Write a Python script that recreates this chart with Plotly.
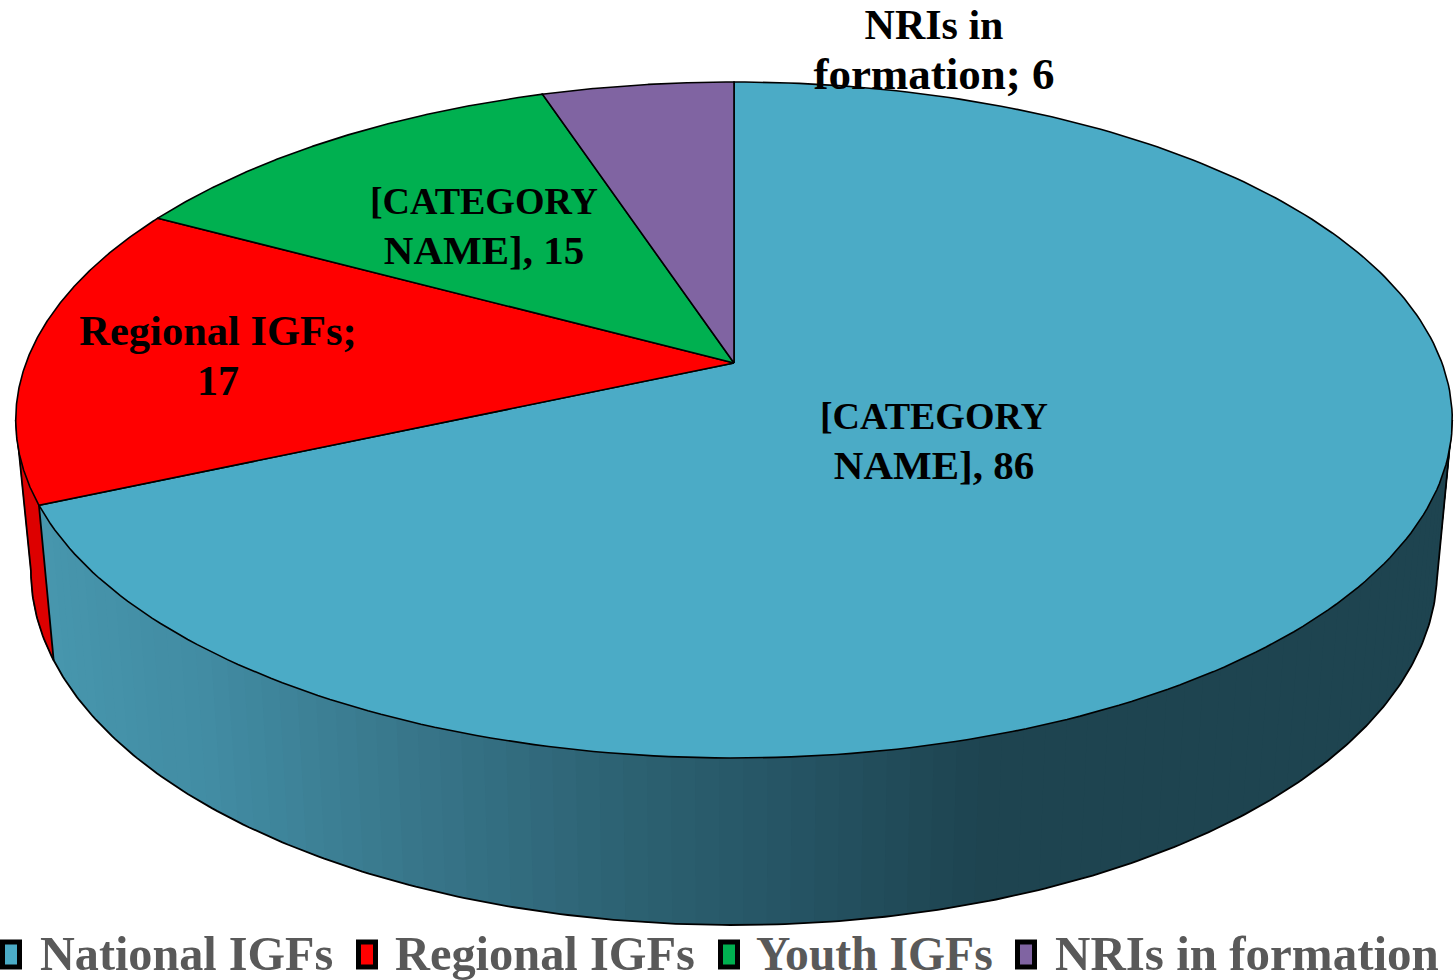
import numpy as np
import plotly.graph_objects as go

# Categories and printed values
categories = ["National IGFs", "Regional IGFs", "Youth IGFs", "NRIs in formation"]
values = [86, 17, 15, 6]
# Slice shares as actually drawn in the picture (the 3D slices differ a little from the printed values)
drawn_shares = [84.8, 18.0, 14.9, 6.3]
colors = ["#4BABC6", "#FF0000", "#00B050", "#8064A2"]

label_lines = [
    ["[CATEGORY", "NAME], 86"],
    ["Regional IGFs;", "17"],
    ["[CATEGORY", "NAME], 15"],
    ["NRIs in", "formation; 6"],
]
label_sizes = [[38, 41], [42.5, 42], [38, 41], [42, 45]]
label_x = [934, 218, 484, 934]
label_y = [[419, 469], [334, 384], [204, 254], [28, 78]]

legend_swatch_x = [0, 356, 718, 1015]
legend_text_x = [40, 395, 756, 1055]
legend_sizes = [48.2, 48.4, 47.6, 49]

W, H = 1455, 980
CX, CY = 734, 363          # apex of the pie on the page
K = 0.1686                 # perspective of the tilted disc
A, B = 708.0, 328.4        # top face
A2, B2, Y02 = 693.0, 343.8, 511.5  # bottom rim


def top(t):
    u, v = np.sin(t), np.cos(t)
    den = 1 + K * v
    return CX + A * u / den, CY - B * v / den


def low(t):
    u, v = np.sin(t), np.cos(t)
    den = 1 + K * v
    return CX + A2 * u / den, Y02 - B2 * v / den


shares = np.array(drawn_shares, dtype=float)
edges = np.concatenate([[0], np.cumsum(shares)]) / shares.sum() * 2 * np.pi

# Angles at which the disc's rim turns away from the viewer (the silhouette)
T_RIGHT = np.arccos(-K)
T_LEFT = 2 * np.pi - T_RIGHT

fig = go.Figure()
noinfo = dict(mode="lines", hoverinfo="skip", showlegend=False)

# Side wall: gradient colour stops by page x
stop_x = [30, 200, 400, 600, 800, 960, 1460]
stop_c = np.array([
    [72, 152, 175], [66, 140, 163], [56, 118, 138], [45, 98, 115],
    [37, 82, 97], [30, 68, 80], [30, 68, 80]], dtype=float)


def wall_colour(x):
    return "rgb(%d,%d,%d)" % tuple(np.interp(x, stop_x, stop_c[:, i]) for i in range(3))


# red wall
t_red = np.linspace(edges[1], T_LEFT, 30)
xt, yt = top(t_red)
xl, yl = low(t_red)
fig.add_trace(go.Scatter(x=np.r_[xt, xl[::-1]], y=np.r_[yt, yl[::-1]], fill="toself",
                         fillcolor="#DD0000", line=dict(color="#DD0000", width=1), **noinfo))

# national wall, in bands painted from right to left, each lying over the end of the last
band_edges = np.linspace(T_RIGHT, edges[1], 91)
for a, b in zip(band_edges[:-1], band_edges[1:]):
    ts = np.linspace(max(T_RIGHT, a - 0.03), b, 6)
    xt, yt = top(ts)
    xl, yl = low(ts)
    mid = low(0.5 * (a + b))[0]
    col = wall_colour(mid)
    fig.add_trace(go.Scatter(x=np.r_[xt, xl[::-1]], y=np.r_[yt, yl[::-1]], fill="toself",
                             fillcolor=col, line=dict(color=col, width=0), **noinfo))

# outline of the wall
t_low = np.linspace(T_RIGHT, T_LEFT, 300)
xl, yl = low(t_low)
xt0, yt0 = top(np.array([T_RIGHT, T_LEFT]))
fig.add_trace(go.Scatter(x=np.r_[xt0[0], xl, xt0[1]], y=np.r_[yt0[0], yl, yt0[1]],
                         line=dict(color="black", width=1.8), **noinfo))
xt, yt = top(edges[1])
xb, yb = low(edges[1])
fig.add_trace(go.Scatter(x=[xt, xb], y=[yt, yb], line=dict(color="black", width=1.8), **noinfo))

# Top face slices
for i, name in enumerate(categories):
    ts = np.linspace(edges[i], edges[i + 1], 240)
    x, y = top(ts)
    fig.add_trace(go.Scatter(x=np.r_[CX, x, CX], y=np.r_[CY, y, CY], fill="toself", name=name,
                             fillcolor=colors[i], mode="lines",
                             line=dict(color="black", width=1.6), showlegend=False,
                             hovertemplate=f"{name}: {values[i]}<extra></extra>"))

# Data labels, one line at a time
tx, ty, tt, ts_ = [], [], [], []
for lines, x0, ys, sizes in zip(label_lines, label_x, label_y, label_sizes):
    for s, yy, sz in zip(lines, ys, sizes):
        tx.append(x0); ty.append(yy); tt.append(s); ts_.append(sz)
fig.add_trace(go.Scatter(x=tx, y=ty, text=tt, mode="text", textposition="middle center",
                         textfont=dict(family="Liberation Serif", size=ts_, color="black", weight=700),
                         hoverinfo="skip", showlegend=False, cliponaxis=False))

# Legend
shapes = []
for sx, col in zip(legend_swatch_x, colors):
    shapes.append(dict(type="rect", xref="x", yref="y", x0=sx + 2.5, x1=sx + 19.5, y0=942, y1=967,
                       fillcolor=col, line=dict(color="black", width=5)))
fig.add_trace(go.Scatter(x=legend_text_x, y=[958] * 4, text=categories, mode="text",
                         textposition="middle right",
                         textfont=dict(family="Liberation Serif", size=legend_sizes, color="#595959", weight=700),
                         hoverinfo="skip", showlegend=False, cliponaxis=False))

fig.update_layout(
    width=W, height=H, margin=dict(l=0, r=0, t=0, b=0), autosize=False,
    paper_bgcolor="white", plot_bgcolor="white", shapes=shapes,
    xaxis=dict(range=[0, W], visible=False, fixedrange=True),
    yaxis=dict(range=[H, 0], visible=False, fixedrange=True),
)
fig.write_html("out.html", config={"displayModeBar": False},
               post_script="document.body.style.margin='0';document.body.style.overflow='hidden';")
